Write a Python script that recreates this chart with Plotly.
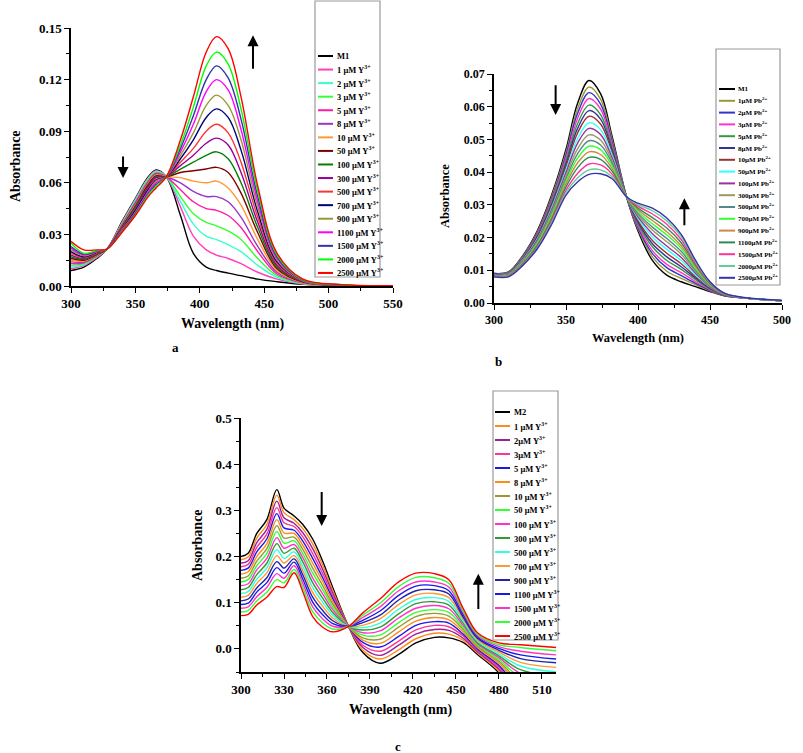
import plotly.graph_objects as go

W, H = 803, 753
FONT = "Times New Roman, Liberation Serif, serif"


def fx(p):
    return p / W


def fy(p):
    return 1 - p / H


# ---------------- Panel a : M1 + Y3+ ----------------
wl_a = [300, 310, 320, 328, 340, 350, 360, 366, 374, 385, 395, 405, 413, 422, 432, 445, 460, 480, 510, 550]
a_M1 = [.009, .011, .016, .0215, .038, .051, .0635, .0675, .0635, .041, .019, .011, .009, .0075, .006, .004, .0025, .001, .0003, 0]
a_1 = [.010, .012, .0165, .0215, .0375, .0505, .063, .067, .0635, .046, .029, .021, .018, .016, .013, .008, .004, .0012, .0003, 0]
a_2 = [.011, .0125, .017, .0215, .037, .050, .0625, .0665, .0635, .049, .036, .029, .027, .024, .020, .012, .005, .0014, .0003, 0]
a_3 = [.012, .013, .0172, .0215, .0366, .049, .062, .066, .0635, .052, .042, .037, .035, .032, .027, .016, .006, .0016, .0003, 0]
a_5 = [.013, .0135, .0175, .0215, .0362, .0485, .061, .0655, .0635, .056, .049, .045, .044, .041, .034, .020, .007, .0018, .0003, 0]
a_8 = [.014, .014, .0178, .0215, .0358, .048, .060, .065, .0635, .060, .055, .052, .052, .049, .040, .023, .008, .002, .0003, 0]
a_10 = [.015, .0145, .018, .0215, .0354, .047, .0595, .0645, .0635, .063, .061, .060, .061, .057, .047, .027, .009, .002, .0003, 0]
a_50 = [.016, .015, .0183, .0215, .035, .0465, .059, .064, .0635, .066, .067, .068, .069, .066, .054, .031, .010, .0023, .0004, 0]
a_100 = [.017, .0155, .0186, .0215, .0346, .046, .058, .0635, .0635, .068, .072, .076, .078, .074, .060, .034, .011, .0025, .0004, 0]
a_300 = [.018, .016, .019, .0215, .0342, .045, .0575, .063, .0635, .070, .076, .083, .086, .082, .066, .037, .012, .0026, .0004, 0]
a_500 = [.019, .0165, .0192, .0215, .0338, .0445, .0565, .062, .0635, .072, .080, .090, .094, .089, .072, .040, .013, .0028, .0005, 0]
a_700 = [.020, .017, .0195, .0215, .0334, .044, .056, .0615, .0635, .074, .085, .098, .103, .098, .079, .043, .014, .003, .0005, 0]
a_900 = [.021, .0175, .0198, .0215, .033, .043, .055, .061, .0635, .076, .089, .105, .111, .105, .085, .046, .015, .003, .0005, 0]
a_1100 = [.022, .018, .020, .0215, .0326, .0425, .0545, .060, .0635, .078, .094, .113, .120, .114, .091, .049, .016, .0033, .0006, 0]
a_1500 = [.023, .0185, .0203, .0215, .0322, .042, .0535, .059, .0635, .080, .099, .120, .128, .121, .097, .052, .017, .0035, .0006, 0]
a_2000 = [.025, .019, .0206, .0215, .0318, .0415, .053, .058, .0635, .082, .104, .128, .136, .129, .103, .055, .018, .0037, .0007, 0]
a_2500 = [.026, .021, .021, .0215, .0315, .041, .052, .057, .0635, .085, .110, .136, .145, .138, .110, .058, .019, .004, .0008, .0002]
series_a = [a_M1, a_1, a_2, a_3, a_5, a_8, a_10, a_50, a_100, a_300, a_500, a_700, a_900, a_1100, a_1500, a_2000, a_2500]
conc_a = ["1", "2", "3", "5", "8", "10", "50", "100", "300", "500", "700", "900", "1100", "1500", "2000", "2500"]
labels_a = ["M1"] + [c + " μM Y<sup>3+</sup>" for c in conc_a]
colors_a = ["#000000", "#FF3FBF", "#33FFCC", "#33FF33", "#FF1AA3", "#9933CC", "#FF9933", "#800000",
            "#008000", "#990099", "#FF3333", "#000080", "#999933", "#FF00FF", "#3333AA", "#00FF00", "#FF0000"]

# ---------------- Panel b : M1 + Pb2+ ----------------
wl_b = [300, 310, 320, 330, 340, 350, 358, 366, 374, 382, 392, 400, 410, 420, 430, 440, 450, 460, 475, 500]
b_M1 = [.009, .0095, .0145, .022, .033, .047, .061, .068, .064, .051, .0325, .022, .013, .0085, .0065, .005, .0035, .0022, .0015, .0007]
b_1 = [.009, .0094, .0143, .0216, .0324, .046, .0593, .066, .0623, .0501, .0325, .0226, .0141, .0097, .0075, .0056, .0037, .0023, .0015, .0007]
b_2 = [.009, .0093, .0141, .0213, .0318, .0452, .0579, .0643, .0608, .0493, .0325, .0231, .0151, .0108, .0084, .006, .0039, .0023, .0015, .0007]
b_3 = [.0088, .0092, .0139, .021, .0313, .0443, .0564, .0625, .0593, .0485, .0325, .0236, .016, .0118, .0093, .0065, .0041, .0024, .0015, .0007]
b_5 = [.0087, .0091, .0137, .0206, .0307, .0434, .0548, .0605, .0576, .0476, .0325, .0242, .0172, .013, .0103, .0071, .0043, .0024, .0015, .0007]
b_8 = [.0087, .009, .0135, .0202, .0301, .0425, .0533, .0588, .0562, .0468, .0325, .0247, .0181, .0141, .0111, .0076, .0045, .0025, .0015, .0007]
b_10 = [.0086, .0089, .0134, .0199, .0296, .0417, .0519, .0571, .0547, .0461, .0325, .0252, .0191, .0152, .012, .008, .0046, .0025, .0015, .0007]
b_50 = [.0085, .0088, .0132, .0195, .029, .0407, .0502, .0551, .053, .0452, .0325, .0258, .0202, .0164, .013, .0086, .0049, .0026, .0015, .0007]
b_100 = [.0085, .0087, .013, .0192, .0284, .0399, .0488, .0534, .0515, .0444, .0325, .0263, .0212, .0174, .0139, .0091, .005, .0026, .0015, .0007]
b_300 = [.0084, .0086, .0128, .0188, .0278, .0389, .0471, .0514, .0498, .0435, .0325, .0269, .0223, .0187, .0149, .0096, .0052, .0027, .0015, .0007]
b_500 = [.0084, .0085, .0126, .0185, .0272, .038, .0456, .0496, .0483, .0427, .0325, .0274, .0232, .0197, .0158, .0101, .0054, .0027, .0015, .0007]
b_700 = [.0083, .0084, .0124, .0182, .0267, .0372, .0442, .0479, .0469, .0419, .0325, .028, .0242, .0208, .0167, .0106, .0056, .0028, .0015, .0007]
b_900 = [.0082, .0084, .0122, .0178, .0262, .0364, .0428, .0462, .0454, .0411, .0325, .0285, .0252, .0218, .0175, .0111, .0058, .0028, .0015, .0007]
b_1100 = [.0082, .0083, .012, .0175, .0256, .0355, .0413, .0445, .0439, .0403, .0325, .029, .0261, .0229, .0184, .0116, .006, .0029, .0015, .0007]
b_1500 = [.0081, .0082, .0118, .0171, .025, .0345, .0396, .0425, .0422, .0394, .0325, .0296, .0272, .0241, .0194, .0121, .0062, .0029, .0015, .0007]
b_2000 = [.008, .0081, .0116, .0168, .0245, .0337, .0382, .0407, .0407, .0386, .0325, .0301, .0282, .0251, .0203, .0126, .0064, .003, .0015, .0007]
b_2500 = [.008, .008, .0115, .0165, .024, .033, .037, .0393, .0395, .038, .0325, .0305, .029, .026, .021, .013, .0065, .003, .0016, .0008]
series_b = [b_M1, b_1, b_2, b_3, b_5, b_8, b_10, b_50, b_100, b_300, b_500, b_700, b_900, b_1100, b_1500, b_2000, b_2500]
conc_b = ["1", "2", "3", "5", "8", "10", "50", "100", "300", "500", "700", "900", "1100", "1500", "2000", "2500"]
labels_b = ["M1"] + [c + "μM Pb<sup>2+</sup>" for c in conc_b]
colors_b = ["#000000", "#999933", "#3333CC", "#FF33CC", "#339944", "#333399", "#993333", "#33FFFF",
            "#993399", "#999966", "#558888", "#33FF33", "#CC8844", "#338855", "#FF3399", "#66CC99", "#3333AA"]

# ---------------- Panel c : M2 + Y3+ ----------------
wl_c = [300, 305, 311, 318, 325, 330, 337, 343, 350, 357, 364, 375, 385, 397, 410, 422, 435, 445, 455, 465, 480, 495, 520]
c_M2 = [.200, .207, .250, .280, .345, .305, .288, .270, .238, .190, .133, .049, -.008, -.031, -.012, .013, .025, .024, .014, -.012, -.052, -.117, -.150]
c_1 = [.193, .199, .240, .2695, .333, .295, .280, .261, .2275, .181, .127, .049, -.003, -.022, -.002, .022, .034, .032, .019, -.009, -.048, -.109, -.140]
c_2 = [.186, .191, .230, .259, .320, .284, .272, .252, .217, .172, .121, .049, .003, -.014, .008, .032, .042, .040, .023, -.006, -.044, -.101, -.130]
c_3 = [.178, .183, .220, .2485, .306, .273, .265, .243, .2065, .163, .115, .049, .008, -.005, .017, .041, .051, .048, .028, -.003, -.040, -.093, -.120]
c_5 = [.170, .175, .210, .238, .293, .262, .257, .234, .196, .154, .109, .049, .014, .004, .027, .051, .059, .056, .032, .000, -.036, -.085, -.110]
c_8 = [.162, .167, .200, .2275, .280, .251, .250, .225, .1855, .146, .103, .049, .019, .012, .037, .060, .068, .063, .037, .003, -.031, -.077, -.100]
c_10 = [.153, .158, .190, .217, .267, .240, .242, .216, .175, .137, .097, .049, .024, .021, .047, .070, .077, .071, .042, .006, -.027, -.069, -.090]
c_50 = [.145, .150, .180, .2065, .254, .229, .234, .207, .1645, .128, .091, .049, .030, .030, .057, .079, .085, .079, .046, .009, -.023, -.061, -.080]
c_100 = [.137, .141, .171, .196, .241, .218, .226, .198, .154, .119, .085, .049, .035, .039, .067, .088, .094, .087, .051, .012, -.019, -.053, -.070]
c_300 = [.128, .133, .161, .1855, .228, .207, .218, .189, .1435, .110, .079, .049, .041, .047, .076, .098, .102, .095, .056, .014, -.015, -.045, -.060]
c_500 = [.120, .124, .151, .175, .215, .196, .210, .179, .133, .101, .073, .049, .046, .056, .086, .107, .111, .103, .060, .017, -.011, -.037, -.050]
c_700 = [.112, .116, .142, .1645, .202, .186, .202, .170, .1225, .092, .067, .049, .051, .065, .096, .117, .120, .111, .065, .020, -.007, -.029, -.040]
c_900 = [.104, .108, .132, .154, .189, .175, .195, .161, .112, .083, .061, .049, .057, .073, .106, .126, .128, .119, .069, .023, -.003, -.021, -.030]
c_1100 = [.096, .099, .123, .1435, .176, .164, .188, .152, .1015, .074, .055, .049, .062, .082, .116, .136, .137, .126, .074, .026, .001, -.013, -.022]
c_1500 = [.088, .091, .113, .133, .163, .153, .180, .143, .091, .065, .049, .049, .068, .091, .126, .145, .145, .134, .079, .029, .005, -.005, -.013]
c_2000 = [.080, .083, .104, .1225, .150, .143, .172, .134, .0805, .056, .043, .049, .073, .099, .135, .155, .154, .142, .083, .032, .009, .003, -.004]
c_2500 = [.072, .075, .095, .112, .135, .133, .165, .125, .070, .047, .037, .049, .078, .108, .145, .164, .163, .150, .088, .035, .013, .009, .003]
series_c = [c_M2, c_1, c_2, c_3, c_5, c_8, c_10, c_50, c_100, c_300, c_500, c_700, c_900, c_1100, c_1500, c_2000, c_2500]
labels_c = ["M2", "1 μM Y<sup>3+</sup>", "2μM Y<sup>3+</sup>", "3μM Y<sup>3+</sup>", "5 μM Y<sup>3+</sup>",
            "8 μM Y<sup>3+</sup>", "10 μM Y<sup>3+</sup>", "50 μM Y<sup>3+</sup>", "100 μM Y<sup>3+</sup>",
            "300 μM Y<sup>3+</sup>", "500 μM Y<sup>3+</sup>", "700 μM Y<sup>3+</sup>", "900 μM Y<sup>3+</sup>",
            "1100 μM Y<sup>3+</sup>", "1500 μM Y<sup>3+</sup>", "2000 μM Y<sup>3+</sup>", "2500 μM Y<sup>3+</sup>"]
colors_c = ["#000000", "#FF8C1A", "#992299", "#FF3399", "#1A1AE6", "#FF8C1A", "#999933", "#33FF33",
            "#FF33CC", "#339933", "#33FFDD", "#FF9933", "#2222AA", "#1A1AE6", "#FF33CC", "#33FF33", "#FF0000"]

fig = go.Figure()

panels = [
    (wl_a, series_a, colors_a, labels_a, "x", "y"),
    (wl_b, series_b, colors_b, labels_b, "x2", "y2"),
    (wl_c, series_c, colors_c, labels_c, "x3", "y3"),
]
for wl, series, colors, labels, xa, ya in panels:
    for vals, col, lab in zip(series, colors, labels):
        fig.add_trace(go.Scatter(
            x=wl, y=vals, mode="lines", name=lab, showlegend=False,
            line=dict(color=col, width=1.4, shape="spline", smoothing=1.0),
            xaxis=xa, yaxis=ya, hoverinfo="skip"))


def axis(domain, rng, dtick, mdtick, size, anchor, fmt=None, tick0=None):
    d = dict(domain=domain, range=rng, dtick=dtick, showline=True, linecolor="black", linewidth=1.5,
             ticks="outside", ticklen=5, tickwidth=1.3, tickcolor="black", showgrid=False,
             zeroline=False, mirror=False, anchor=anchor, automargin=False,
             tickfont=dict(family=FONT, size=size, color="black", weight="bold"),
             minor=dict(ticks="outside", ticklen=3, tickwidth=1, tickcolor="black", dtick=mdtick))
    if fmt:
        d["tickformat"] = fmt
    if tick0 is not None:
        d["tick0"] = tick0
    return d


shapes = []
annotations = []


def legend(labels, colors, bx0, bx1, by0, by1, first, step, sw0, sw1, tx, size):
    shapes.append(dict(type="rect", xref="paper", yref="paper", x0=fx(bx0), x1=fx(bx1),
                       y0=fy(by1), y1=fy(by0), line=dict(color="#9a9a9a", width=1.2)))
    for k, (lab, col) in enumerate(zip(labels, colors)):
        yy = first + k * step
        shapes.append(dict(type="line", xref="paper", yref="paper", x0=fx(sw0), x1=fx(sw1),
                           y0=fy(yy), y1=fy(yy), line=dict(color=col, width=2)))
        annotations.append(dict(xref="paper", yref="paper", x=fx(tx), y=fy(yy), text="<b>" + lab + "</b>",
                                showarrow=False, xanchor="left", yanchor="middle",
                                font=dict(family=FONT, size=size, color="black")))


legend(labels_a, colors_a, 315, 380, 1, 277, 56, 13.56, 318, 333, 335, 8.5)
legend(labels_b, colors_b, 716, 780, 49, 285, 89, 11.8, 719, 735, 736, 7)
legend(labels_c, colors_c, 493, 558, 391, 640, 412, 14, 495, 510, 512, 8.5)


def text(x, y, s, size, angle=0):
    annotations.append(dict(xref="paper", yref="paper", x=fx(x), y=fy(y), text="<b>" + s + "</b>",
                            showarrow=False, xanchor="center", yanchor="middle", textangle=angle,
                            font=dict(family=FONT, size=size, color="black")))


text(15, 166, "Absorbance", 14, -90)
text(232, 324, "Wavelength (nm)", 14)
text(445, 196, "Absorbance", 12.5, -90)
text(638, 338, "Wavelength (nm)", 12.5)
text(197, 545, "Absorbance", 14, -90)
text(400, 710, "Wavelength (nm)", 14)
text(175, 347, "a", 13)
text(498, 361, "b", 13)
text(398, 746, "c", 13)


def arrow(xr, yr, x, y0, y1):
    annotations.append(dict(xref=xr, yref=yr, axref=xr, ayref=yr, x=x, y=y1, ax=x, ay=y0, text="",
                            showarrow=True, arrowhead=2, arrowsize=1.1, arrowwidth=2, arrowcolor="black"))


arrow("x", "y", 340.4, 0.0761, 0.0628)
arrow("x", "y", 441.3, 0.1255, 0.1458)
arrow("x2", "y2", 342.8, 0.067, 0.0575)
arrow("x2", "y2", 432.2, 0.0233, 0.032)
arrow("x3", "y3", 356.3, 0.343, 0.266)
arrow("x3", "y3", 465.6, 0.083, 0.163)

fig.update_layout(
    width=W, height=H, margin=dict(l=0, r=0, t=0, b=0),
    paper_bgcolor="white", plot_bgcolor="white", showlegend=False,
    xaxis=axis([fx(71), fx(393)], [300, 550], 50, 25, 13, "y"),
    yaxis=axis([fy(286), fy(28)], [0, 0.15], 0.03, 0.015, 13, "x", ".2f"),
    xaxis2=axis([fx(494), fx(782)], [300, 500], 50, 25, 12, "y2"),
    yaxis2=axis([fy(303), fy(74)], [0, 0.07], 0.01, 0.005, 12, "x2", ".2f"),
    xaxis3=axis([fx(241), fx(556.3)], [300, 520], 30, 15, 13, "y3"),
    yaxis3=axis([fy(672), fy(418)], [-0.05, 0.5], 0.1, 0.05, 13, "x3", ".1f", 0),
    shapes=shapes, annotations=annotations,
)

fig.write_html("out.html")
